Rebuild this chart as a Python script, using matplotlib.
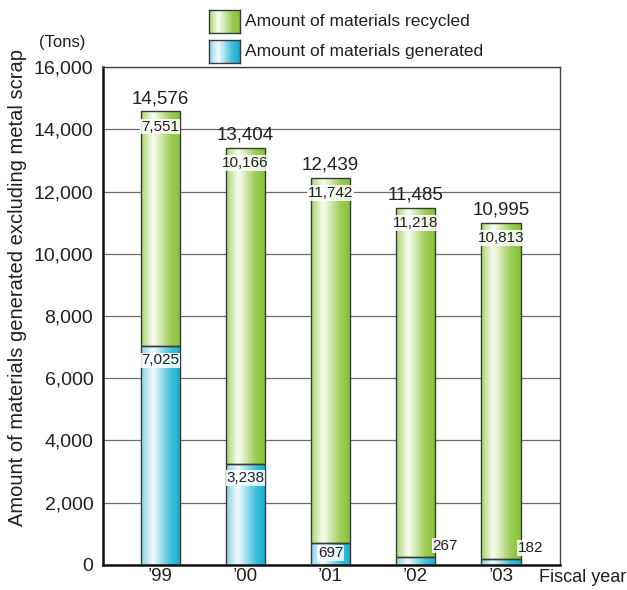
import numpy as np
import matplotlib.pyplot as plt
from matplotlib.colors import LinearSegmentedColormap

plt.rcParams['font.family'] = ['Liberation Sans', 'DejaVu Sans']

years = ["\u201999", "\u201900", "\u201901", "\u201902", "\u201903"]
generated = [7025, 3238, 697, 267, 182]
recycled = [7551, 10166, 11742, 11218, 10813]
totals = [14576, 13404, 12439, 11485, 10995]

green_cm = LinearSegmentedColormap.from_list(
    "g", [(0, "#a9d46c"), (0.3, "#fbfdf5"), (0.75, "#9ccd55"), (1, "#86c23a")])
blue_cm = LinearSegmentedColormap.from_list(
    "b", [(0, "#8ad3e8"), (0.3, "#f4fbfd"), (0.75, "#3fc0dc"), (1, "#14aed0")])
grad = np.linspace(0, 1, 64).reshape(1, -1)
ink = "#231f20"

fig = plt.figure(figsize=(6.27, 5.9), dpi=100)
ax = fig.add_axes([0.1643, 0.0424, 0.7287, 0.844])

x = np.arange(len(years))
w = 0.46
bot = ax.bar(x, generated, w, facecolor="none", edgecolor="#3a3a3a", lw=1, zorder=3)
top = ax.bar(x, recycled, w, bottom=generated, facecolor="none", edgecolor="#3a3a3a", lw=1, zorder=3)


def fill(bars, cmap):
    for b in bars:
        x0, y0 = b.get_x(), b.get_y()
        im = ax.imshow(grad, cmap=cmap, aspect="auto", interpolation="bilinear",
                       extent=[x0, x0 + b.get_width(), y0, y0 + b.get_height()], zorder=2)
        im.set_clip_path(b)


fill(bot, blue_cm)
fill(top, green_cm)

ax.set_xlim(-0.67, 4.69)
ax.set_ylim(0, 16000)
ax.set_yticks(range(0, 16001, 2000))
ax.set_yticklabels([f"{v:,}" for v in range(0, 16001, 2000)], fontsize=14, color=ink)
ax.set_xticks(x)
ax.set_xticklabels(years, fontsize=13.5, color=ink)
ax.tick_params(axis="y", length=0, pad=7)
ax.tick_params(axis="x", length=0, pad=2.5)
ax.grid(axis="y", color="#6d6d6d", lw=0.9, zorder=1)
ax.set_axisbelow(True)
for s in ["left", "bottom"]:
    ax.spines[s].set_linewidth(1.8)
    ax.spines[s].set_color("#111111")
for s in ["top", "right"]:
    ax.spines[s].set_linewidth(1.0)
    ax.spines[s].set_color("#444444")

box = dict(boxstyle="square,pad=0.05", fc="white", ec="none", alpha=0.85)
for i in x:
    ax.annotate(f"{totals[i]:,}", (i, totals[i]), xytext=(0, 3), textcoords="offset points",
                ha="center", va="bottom", fontsize=13.5, color=ink)
    ax.annotate(f"{recycled[i]:,}", (i, totals[i]), xytext=(0, -6), textcoords="offset points",
                ha="center", va="top", fontsize=11, color=ink, bbox=box, zorder=5)

# labels on the generated segments
for i in (0, 1):
    ax.annotate(f"{generated[i]:,}", (i, generated[i]), xytext=(0, -5), textcoords="offset points",
                ha="center", va="top", fontsize=11, color=ink, bbox=box, zorder=5)
ax.annotate(f"{generated[2]:,}", (2, generated[2]), xytext=(0, -2), textcoords="offset points",
            ha="center", va="top", fontsize=11, color=ink, bbox=box, zorder=5)
for i in (3, 4):
    ax.annotate(f"{generated[i]:,}", (i + w / 2, generated[i]), xytext=(-2, 3),
                textcoords="offset points", ha="left", va="bottom", fontsize=11,
                color=ink, bbox=box, zorder=5)

fig.text(18 / 627, 1 - 287 / 590, "Amount of materials generated excluding metal scrap",
         rotation=90, ha="center", va="center", fontsize=14.5, color=ink)
fig.text(39 / 627, 1 - 42 / 590, "(Tons)", ha="left", va="center", fontsize=12, color=ink)
fig.text(539 / 627, 1 - 577 / 590, "Fiscal year", ha="left", va="center", fontsize=13, color=ink)

# legend swatches
for (y0, cmap, label) in [(10, green_cm, "Amount of materials recycled"),
                          (40, blue_cm, "Amount of materials generated")]:
    lax = fig.add_axes([209 / 627, 1 - (y0 + 23) / 590, 31 / 627, 23 / 590])
    lax.imshow(grad, cmap=cmap, aspect="auto", interpolation="bilinear")
    lax.set_xticks([])
    lax.set_yticks([])
    for s in lax.spines.values():
        s.set_color("#3a3a3a")
        s.set_linewidth(1)
    fig.text(245 / 627, 1 - (y0 + 11.5) / 590, label, ha="left", va="center",
             fontsize=12.5, color=ink)

fig.savefig("out.png", dpi=100)
